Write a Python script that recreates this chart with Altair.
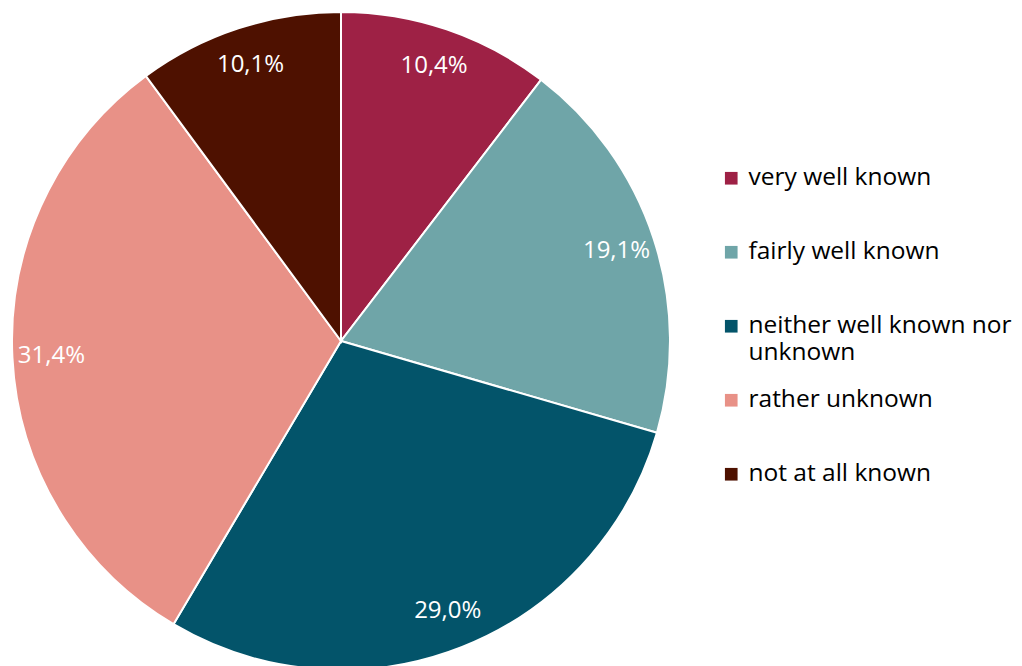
import altair as alt
import pandas as pd

categories = ["very well known", "fairly well known", "neither well known nor unknown",
              "rather unknown", "not at all known"]
values = [10.4, 19.1, 29.0, 31.4, 10.1]
value_labels = ["10,4%", "19,1%", "29,0%", "31,4%", "10,1%"]
colors = ["#9E2145", "#6FA5A8", "#03546A", "#E89187", "#4E1100"]

df = pd.DataFrame({
    "cat": categories,
    "value": values,
    "lab": value_labels,
    "idx": list(range(len(categories))),
})

FONT = "Open Sans"

base = alt.Chart(df).encode(
    theta=alt.Theta("value:Q", stack=True),
    order=alt.Order("idx:Q"),
)

arcs = base.mark_arc(outerRadius=329, stroke="white", strokeWidth=2).encode(
    x=alt.value(333), y=alt.value(333),
    color=alt.Color(
        "cat:N",
        sort=categories,
        scale=alt.Scale(domain=categories, range=colors),
        legend=alt.Legend(
            title=None,
            orient="none",
            legendX=711,
            legendY=158,
            symbolType="square",
            symbolSize=160,
            symbolStrokeWidth=0,
            labelFont=FONT,
            labelFontSize=24.5,
            labelColor="#000000",
            labelLimit=400,
            rowPadding=22,
            labelOffset=5,
            gridAlign="all",
            labelExpr="datum.label == 'neither well known nor unknown' ? ['neither well known nor', 'unknown'] : datum.label",
        ),
    ),
)

texts = base.mark_text(radius=290, fontSize=24, font=FONT,
                       align="center", baseline="middle").encode(
    text="lab:N", x=alt.value(333), y=alt.value(333), color=alt.value("white")
)

chart = (arcs + texts).properties(
    width=1006, height=680, autosize=alt.AutoSizeParams(type="none"),
    padding=0, background="white"
).configure_view(stroke=None)

chart.save("out.html", embed_options={"renderer": "svg", "actions": False})
